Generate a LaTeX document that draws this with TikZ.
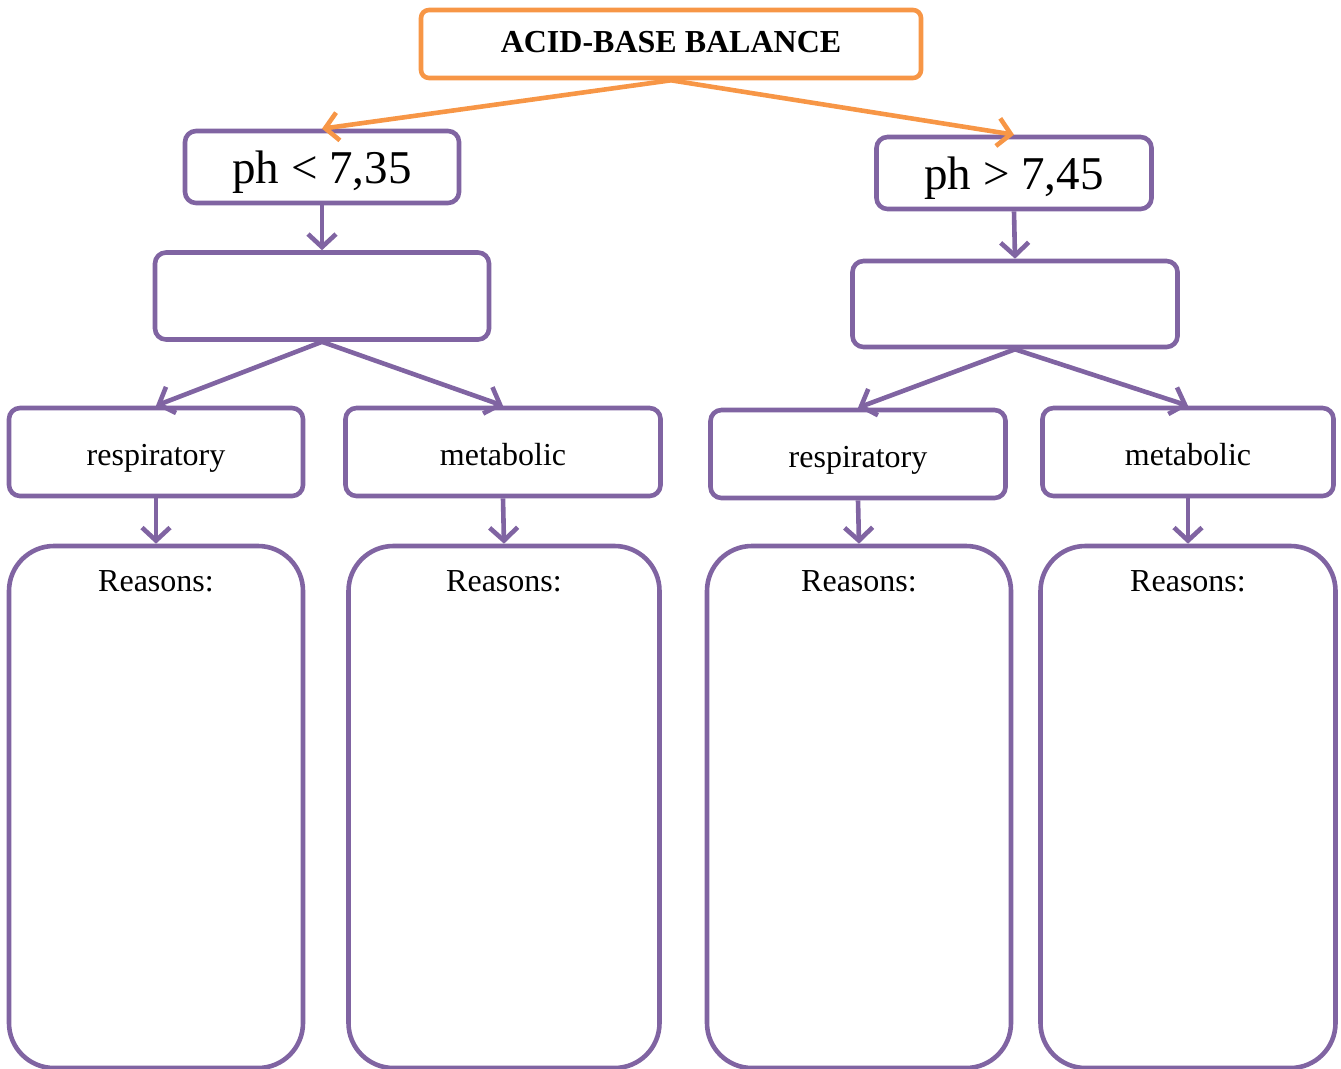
\documentclass[tikz,border=0pt]{standalone}
\usepackage{fontspec}
\setmainfont{Liberation Serif}
\usepackage{xcolor}
\usetikzlibrary{arrows.meta}
\definecolor{boxpurple}{HTML}{8064A2}
\definecolor{boxorange}{HTML}{F79646}

\begin{document}
\begin{tikzpicture}[x=1pt,y=-1pt,->,>={Straight Barb[length=13pt,width=28pt]},line width=4.6pt,line join=round]
    \tikzstyle{pbox}=[draw=boxpurple,rounded corners=11pt,inner sep=0pt,text height=28pt,text depth=2pt,font=\fontsize{32}{36}\selectfont]
    \tikzstyle{phbox}=[pbox,text height=36pt,text depth=4pt,font=\fontsize{47}{54}\selectfont]
    \tikzstyle{obox}=[draw=boxorange,rounded corners=8pt,inner sep=0pt,text height=18pt,text depth=2pt,font=\fontsize{32}{36}\selectfont\bfseries]
    \tikzstyle{rbox}=[draw=boxpurple,rounded corners=45pt,inner sep=0pt,minimum height=522pt]
    \tikzstyle{parr}=[draw=boxpurple]
    \tikzstyle{oarr}=[draw=boxorange]
    \useasboundingbox (0,0) rectangle (1341,1068);
    \node[obox,minimum width=500pt,minimum height=68pt] (acid) at (671,44) {ACID-BASE BALANCE};
    \node[phbox,minimum width=274pt,minimum height=72pt] (low) at (322,167) {ph < 7,35};
    \node[phbox,minimum width=275pt,minimum height=72pt] (high) at (1014,173) {ph > 7,45};
    \node[pbox,minimum width=334pt,minimum height=87pt] (lowmid) at (322,296) {};
    \node[pbox,minimum width=325pt,minimum height=86pt] (highmid) at (1015,304) {};
    \node[pbox,minimum width=294pt,minimum height=88pt] (lowresp) at (156,452) {respiratory};
    \node[pbox,minimum width=315pt,minimum height=88pt] (lowmet) at (503,452) {metabolic};
    \node[pbox,minimum width=295pt,minimum height=88pt] (highresp) at (858,454) {respiratory};
    \node[pbox,minimum width=291pt,minimum height=88pt] (highmet) at (1188,452) {metabolic};
    \node[rbox,minimum width=294pt,label={[anchor=north,yshift=-21pt,font=\fontsize{32}{36}\selectfont]north:Reasons:}] (lowrespwhy) at (156,807) {};
    \node[rbox,minimum width=311pt,label={[anchor=north,yshift=-21pt,font=\fontsize{32}{36}\selectfont]north:Reasons:}] (lowmetwhy) at (504,807) {};
    \node[rbox,minimum width=304pt,label={[anchor=north,yshift=-21pt,font=\fontsize{32}{36}\selectfont]north:Reasons:}] (highrespwhy) at (859,807) {};
    \node[rbox,minimum width=295pt,label={[anchor=north,yshift=-21pt,font=\fontsize{32}{36}\selectfont]north:Reasons:}] (highmetwhy) at (1188,807) {};
    \draw[oarr] (acid.south) -- (low.north);
    \draw[oarr] (acid.south) -- (high.north);
    \draw[parr] (low.south) -- (lowmid.north);
    \draw[parr] (high.south) -- (highmid.north);
    \draw[parr] (lowmid.south) -- (lowresp.north);
    \draw[parr] (lowmid.south) -- (lowmet.north);
    \draw[parr] (highmid.south) -- (highresp.north);
    \draw[parr] (highmid.south) -- (highmet.north);
    \draw[parr] (lowresp.south) -- (lowrespwhy.north);
    \draw[parr] (lowmet.south) -- (lowmetwhy.north);
    \draw[parr] (highresp.south) -- (highrespwhy.north);
    \draw[parr] (highmet.south) -- (highmetwhy.north);
\end{tikzpicture}
\end{document}
